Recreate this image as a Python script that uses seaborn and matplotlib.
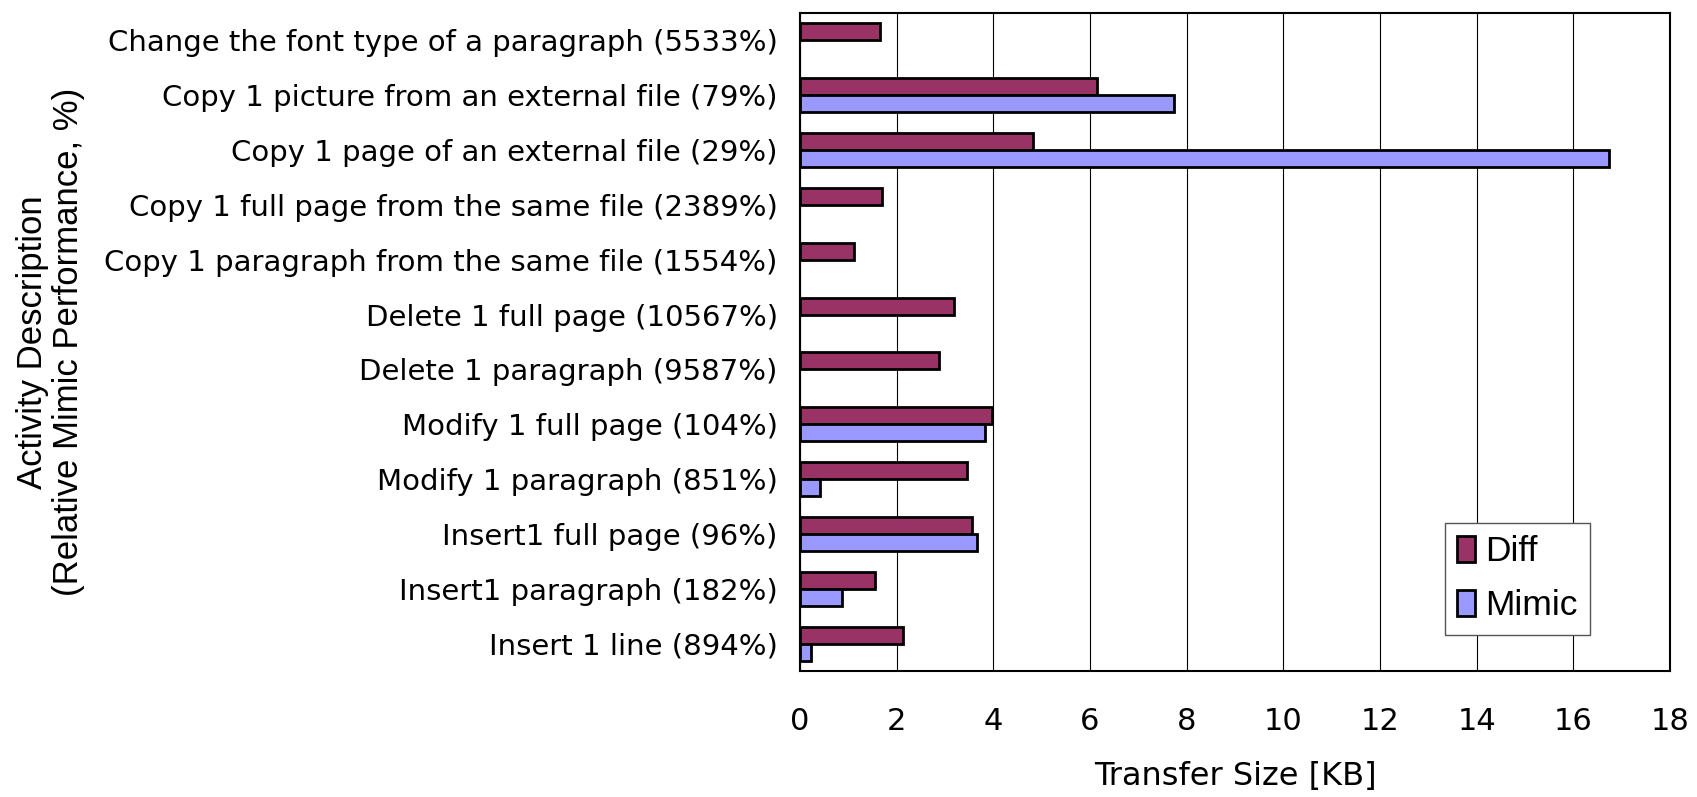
import numpy as np
import pandas as pd
import matplotlib
matplotlib.use("Agg")
import matplotlib.pyplot as plt
import seaborn as sns

activities = [
    "Change the font type of a paragraph (5533%)",
    "Copy 1 picture from an external file (79%)",
    "Copy 1 page of an external file (29%)",
    "Copy 1 full page from the same file (2389%)",
    "Copy 1 paragraph from the same file (1554%)",
    "Delete 1 full page (10567%)",
    "Delete 1 paragraph (9587%)",
    "Modify 1 full page (104%)",
    "Modify 1 paragraph (851%)",
    "Insert1 full page (96%)",
    "Insert1 paragraph (182%)",
    "Insert 1 line (894%)",
]
diff_kb = [1.66, 6.14, 4.82, 1.70, 1.12, 3.19, 2.88, 3.98, 3.45, 3.55, 1.55, 2.13]
mimic_kb = [np.nan, 7.74, 16.73, np.nan, np.nan, np.nan, np.nan, 3.82, 0.42, 3.66, 0.86, 0.22]
series = ["Diff", "Mimic"]
x_ticks = [0, 2, 4, 6, 8, 10, 12, 14, 16, 18]

df = pd.concat([
    pd.DataFrame({"Activity": activities, "Size": diff_kb, "Method": series[0]}),
    pd.DataFrame({"Activity": activities, "Size": mimic_kb, "Method": series[1]}),
]).dropna()

sns.set_theme(style="white")
plt.rcParams["font.family"] = ["Liberation Sans", "DejaVu Sans"]
plt.rcParams["text.color"] = "black"
plt.rcParams["axes.labelcolor"] = "black"
plt.rcParams["xtick.color"] = "black"
plt.rcParams["ytick.color"] = "black"
tick_font = "DejaVu Sans"

fig = plt.figure(figsize=(16.97, 7.97), dpi=100)
ax = fig.add_axes([0.4714, 0.1581, 0.5127, 0.8256])

sns.barplot(
    data=df, y="Activity", x="Size", hue="Method", order=activities,
    hue_order=series, palette=["#993366", "#9999FF"], saturation=1,
    orient="h", width=0.62, edgecolor="black", linewidth=2,
    errorbar=None, ax=ax,
)

ax.set_xlim(0, 18)
ax.set_xticks(x_ticks)
ax.set_xticklabels([str(t) for t in x_ticks], fontfamily=tick_font, fontsize=22)
ax.set_yticks(range(len(activities)))
ax.set_yticklabels(activities, fontfamily=tick_font, fontsize=21)
ax.tick_params(axis="x", length=0, pad=26)
ax.tick_params(axis="y", length=0, pad=16)

ax.xaxis.grid(True, color="black", linewidth=0.8)
ax.yaxis.grid(False)
ax.set_axisbelow(True)
for sp in ax.spines.values():
    sp.set_visible(True)
    sp.set_color("black")
    sp.set_linewidth(1.5)

ax.set_xlabel("Transfer Size [KB]", fontfamily=tick_font, fontsize=23, labelpad=18)
ax.set_ylabel("Activity Description\n(Relative Mimic Performance, %)",
              fontsize=25, labelpad=14, linespacing=1.1)

leg = ax.legend(
    loc="lower left", bbox_to_anchor=(0.741, 0.055), borderaxespad=0,
    fontsize=25.5, frameon=True, fancybox=False, framealpha=1,
    edgecolor="#555555", handlelength=0.5, handleheight=0.75,
    handletextpad=0.3, labelspacing=0.6, borderpad=0.35, title=None,
)
leg.get_frame().set_linewidth(1)
for h in leg.legend_handles:
    h.set_edgecolor("black")
    h.set_linewidth(2)

fig.savefig("out.png", dpi=100)
